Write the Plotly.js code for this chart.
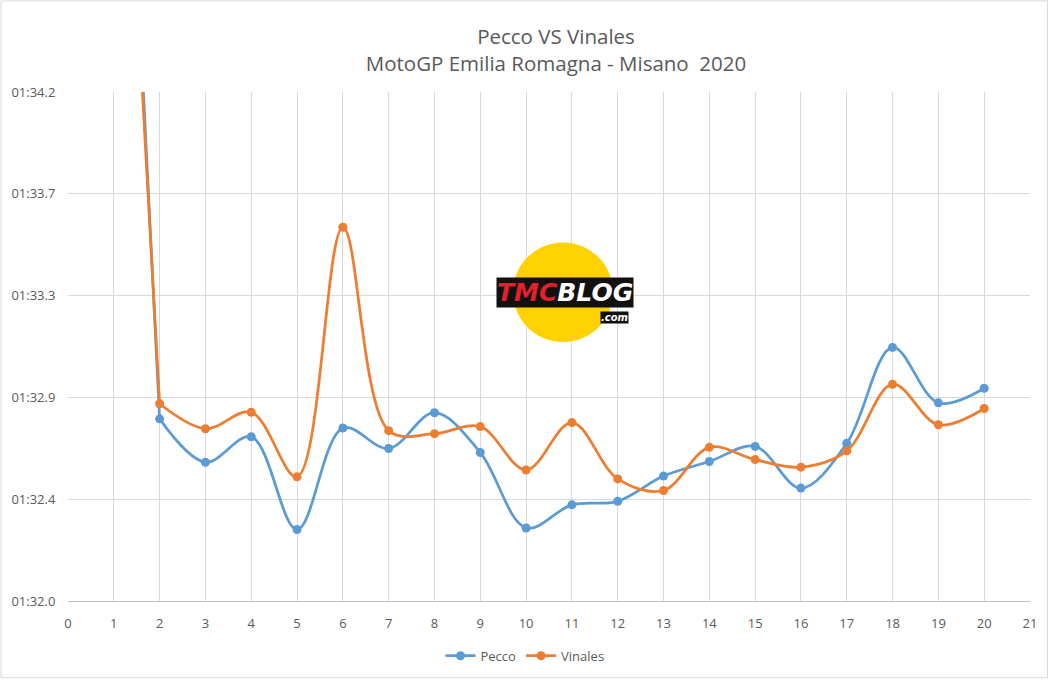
<!DOCTYPE html>
<html>
<head>
<meta charset="utf-8">
<script src="https://cdn.plot.ly/plotly-3.0.1.min.js"></script>
<style>html,body{margin:0;padding:0;background:#fff;}#chart{width:1050px;height:683px;}</style>
</head>
<body>
<div id="chart"></div>
<script>
// Lap numbers
var laps = [1,2,3,4,5,6,7,8,9,10,11,12,13,14,15,16,17,18,19,20];
// Lap times in seconds (92.0 = 01:32.0); lap 1 is above the visible range
var pecco   = [96.69,92.773,92.589,92.697,92.303,92.734,92.647,92.799,92.630,92.310,92.408,92.423,92.530,92.592,92.656,92.479,92.669,93.076,92.841,92.903];
var vinales = [96.36,92.837,92.731,92.801,92.527,93.586,92.723,92.710,92.740,92.556,92.757,92.518,92.469,92.652,92.600,92.568,92.637,92.920,92.748,92.817];
// Y tick positions (seconds) and labels
var yTickVals = [92.0, 92.432, 92.864, 93.296, 93.728, 94.16];
var yTickText = ["01:32.0","01:32.4","01:32.9","01:33.3","01:33.7","01:34.2"];
var xTickVals = [0,1,2,3,4,5,6,7,8,9,10,11,12,13,14,15,16,17,18,19,20,21];

var FONT = "Open Sans, Noto Sans, sans-serif";
var GREY = "#595959";
var BLUE = "#5B9BD5", ORANGE = "#ED7D31";

// plot area pixel geometry helpers for decorative shapes
var L = 68, R = 1030, T = 92, B = 603;
function px(x){ return (x - L) / (R - L); }
function py(y){ return (B - y) / (B - T); }

function series(name, vals, color){
  return [
    // opening lap (off the top of the axis) joined straight to lap 2
    {x: laps.slice(0, 2), y: vals.slice(0, 2), name: name, type: "scatter", mode: "lines",
     line: {color: color, width: 2.75}, showlegend: false, hoverinfo: "skip"},
    {x: laps.slice(1), y: vals.slice(1), name: name, type: "scatter", mode: "lines+markers",
     line: {color: color, width: 2.75, shape: "spline", smoothing: 1},
     marker: {color: color, size: 9}}
  ];
}

var traces = series("Pecco", pecco, BLUE).concat(series("Vinales", vinales, ORANGE));

var layout = {
  width: 1050, height: 683,
  margin: {l: L, r: 1050 - R, t: T, b: 683 - B, pad: 0},
  paper_bgcolor: "#ffffff", plot_bgcolor: "#ffffff",
  font: {family: FONT, color: GREY, size: 13},
  title: {
    text: "Pecco VS Vinales<br>MotoGP Emilia Romagna - Misano\u00a0 2020",
    font: {family: FONT, size: 20.5, color: GREY},
    x: 556 / 1050, xanchor: "center", xref: "container",
    y: 1 - 44 / 683, yanchor: "top", yref: "container"
  },
  xaxis: {
    range: [0, 21], tickvals: xTickVals, ticktext: xTickVals.map(String),
    showgrid: true, gridcolor: "#d9d9d9", gridwidth: 1,
    zeroline: false, showline: true, linecolor: "#bfbfbf", linewidth: 1,
    ticks: "outside", ticklen: 10, tickcolor: "rgba(0,0,0,0)",
    tickfont: {family: FONT, size: 13, color: GREY}, fixedrange: true
  },
  yaxis: {
    range: [92.0, 94.16], tickvals: yTickVals, ticktext: yTickText,
    showgrid: true, gridcolor: "#d9d9d9", gridwidth: 1,
    zeroline: false, showline: false,
    ticks: "outside", ticklen: 9, tickcolor: "rgba(0,0,0,0)",
    tickfont: {family: FONT, size: 13, color: GREY}, fixedrange: true
  },
  showlegend: true,
  legend: {
    orientation: "h", x: px(525), xanchor: "center", y: py(658), yanchor: "middle",
    font: {family: FONT, size: 13, color: GREY}, bgcolor: "rgba(0,0,0,0)",
    tracegroupgap: 0
  },
  shapes: [
    {type: "rect", xref: "paper", yref: "paper", x0: px(1), x1: px(1047.5), y0: py(680), y1: py(0.5),
     line: {color: "#d9d9d9", width: 1}, fillcolor: "rgba(0,0,0,0)", layer: "below"},
    {type: "circle", xref: "paper", yref: "paper", x0: px(513), x1: px(613), y0: py(343), y1: py(243),
     fillcolor: "#FFD100", line: {width: 0}, layer: "above"}
  ],
  annotations: [
    {xref: "paper", yref: "paper", x: px(565), y: py(293), xanchor: "center", yanchor: "middle",
     text: "<b><i><span style='color:#E4202B'>TMC</span>BLOG</i></b>", showarrow: false,
     font: {family: "DejaVu Sans, sans-serif", size: 25, color: "#ffffff"},
     bgcolor: "#111111", borderpad: 0},
    {xref: "paper", yref: "paper", x: px(614), y: py(318), xanchor: "center", yanchor: "middle",
     text: "<b><i>.com</i></b>", showarrow: false,
     font: {family: "DejaVu Sans, sans-serif", size: 10, color: "#ffffff"},
     bgcolor: "#111111", borderpad: 0}
  ]
};

Plotly.newPlot("chart", traces, layout, {displayModeBar: false, staticPlot: true});
</script>
</body>
</html>
